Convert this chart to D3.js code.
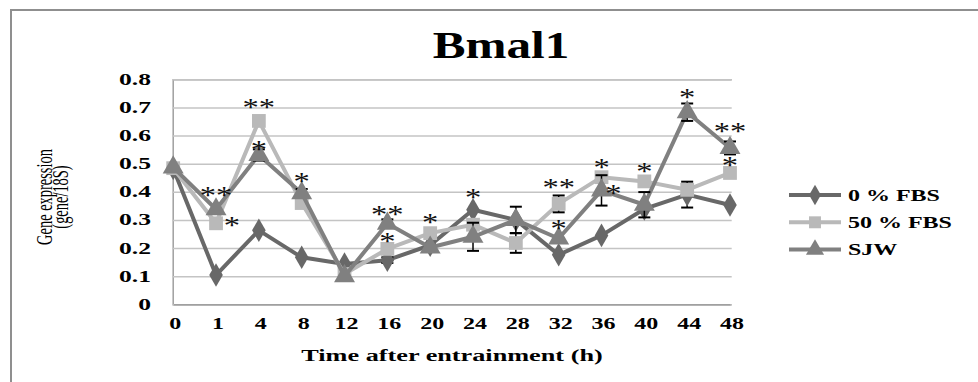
<!DOCTYPE html>
<html><head><meta charset="utf-8">
<script src="https://cdn.jsdelivr.net/npm/d3@7"></script>
<style>body{margin:0;background:#fff}svg{display:block}</style>
</head><body>
<svg id="c" width="978" height="382"></svg>
<script>
const categories = ["0","1","4","8","12","16","20","24","28","32","36","40","44","48"];
const yTicks = [0,0.1,0.2,0.3,0.4,0.5,0.6,0.7,0.8];
const seriesNames = ["0 % FBS","50 % FBS","SJW"];
const fbs0  = [0.483,0.104,0.263,0.167,0.143,0.157,0.210,0.336,0.300,0.176,0.245,0.339,0.390,0.353];
const fbs50 = [0.484,0.288,0.652,0.360,0.108,0.197,0.253,0.283,0.218,0.357,0.452,0.437,0.407,0.467];
const sjw   = [0.487,0.338,0.531,0.395,0.100,0.287,0.202,0.240,0.300,0.234,0.405,0.354,0.683,0.556];
const fbs0Err  = [0,0,0,0,0,0.010,0,0,0,0,0,0,0.046,0];
const fbs50Err = [0,0,0,0,0,0,0,0,0.035,0.030,0,0,0,0];
const sjwErr   = [0,0,0.02,0.015,0,0.015,0,0.05,0.047,0,0.054,0.045,0.031,0.023];
// significance marks: [category position, value level, label]
const marks = [
  [1,0.404,"**"],[1.37,0.296,"*"],[2,0.716,"**"],[2,0.567,"*"],[3,0.453,"*"],
  [5,0.336,"**"],[5,0.240,"*"],[6,0.307,"*"],[7,0.396,"*"],[9,0.432,"**"],[9,0.286,"*"],
  [10,0.503,"*"],[10.28,0.410,"*"],[11,0.489,"*"],[12,0.752,"*"],[13,0.631,"**"],[13,0.510,"*"]
];

const svg = d3.select("#c");
const SX = 1.5; // horizontal stretch of the original picture's text
const serif = "'Liberation Serif','Times New Roman',serif";
const L = 172.7, R = 731.7, T = 79.3, B = 304.3;
const x = d3.scaleLinear().domain([0, categories.length-1]).range([L+0.5, 730]);
const y = d3.scaleLinear().domain([0,0.8]).range([B,T]);

// frame
svg.append("rect").attr("x",11).attr("y",10).attr("width",1000).attr("height",400)
  .attr("fill","#fff").attr("stroke","#8f8f8f").attr("stroke-width",2);

function stext(g, tx, ty, str, size, weight, anchor, sx){
  return g.append("text").attr("transform",`translate(${tx},${ty}) scale(${sx||SX},1)`)
    .attr("text-anchor",anchor||"middle").attr("font-family",serif)
    .attr("font-size",size).attr("font-weight",weight||"bold").attr("fill","#000").text(str);
}

// title
stext(svg, 501, 58, "Bmal1", 37, "bold", "middle", 1.33);

// grid
const yAxis = d3.axisLeft(y).tickValues(yTicks).tickSize(-(R-L)).tickFormat("");
const gy = svg.append("g").attr("transform",`translate(${L},0)`).call(yAxis);
gy.select(".domain").attr("stroke","#a0a0a0").attr("stroke-width",1.5);
gy.selectAll(".tick line").attr("stroke","#c4c4c4").attr("stroke-width",1.5);
yTicks.forEach(t=>{ stext(svg, 151, y(t)+5.5, t===0?"0":d3.format(".1f")(t), 16, "bold", "end", 1.6); });

// x axis
const gx = svg.append("g").attr("transform",`translate(0,${B})`)
  .call(d3.axisBottom(x).tickValues(d3.range(categories.length)).tickSize(0).tickFormat(""));
gx.select(".domain").attr("stroke","#a0a0a0").attr("stroke-width",1.5);
categories.forEach((c,i)=>{ stext(svg, x(i)+2, 329, c, 16, "bold"); });
stext(svg, 452, 361, "Time after entrainment (h)", 17.5, "bold");

// y title
const YS = 1.4;
const yt = svg.append("g").attr("transform",`scale(${YS},1)`);
yt.append("text").attr("transform",`translate(${52/YS},197) rotate(-90) scale(0.85,1)`).attr("text-anchor","middle")
  .attr("font-family",serif).attr("font-size",17).attr("fill","#000").text("Gene expression");
yt.append("text").attr("transform",`translate(${67.5/YS},197) rotate(-90) scale(0.85,1)`).attr("text-anchor","middle")
  .attr("font-family",serif).attr("font-size",17).attr("fill","#000").text("(gene/18S)");

const series = [
  {name:seriesNames[0], vals:fbs0, err:fbs0Err, color:"#686868", shape:d3.symbolDiamond, size:160},
  {name:seriesNames[1], vals:fbs50, err:fbs50Err, color:"#b9b9b9", shape:d3.symbolSquare, size:190},
  {name:seriesNames[2], vals:sjw, err:sjwErr, color:"#808080", shape:d3.symbolTriangle, size:190}
];
const line = d3.line().x((d,i)=>x(i)).y(d=>y(d));
series.forEach(s=>{
  const g = svg.append("g");
  g.append("path").attr("d",line(s.vals)).attr("fill","none").attr("stroke",s.color)
    .attr("stroke-width",4).attr("stroke-linejoin","round");
  s.vals.forEach((v,i)=>{
    const e = s.err[i];
    if(e>0){
      g.append("line").attr("x1",x(i)).attr("x2",x(i)).attr("y1",y(v-e)).attr("y2",y(v+e)).attr("stroke","#000").attr("stroke-width",1.5);
      [v-e,v+e].forEach(w=>g.append("line").attr("x1",x(i)-6).attr("x2",x(i)+6).attr("y1",y(w)).attr("y2",y(w)).attr("stroke","#000").attr("stroke-width",2));
    }
  });
  g.selectAll("path.m").data(s.vals).join("path").attr("class","m")
    .attr("transform",(d,i)=>`translate(${x(i)},${y(d)})`)
    .attr("d",d3.symbol().type(s.shape).size(s.size)).attr("fill",s.color);
});

// significance marks
marks.forEach(([p,v,t])=>{
  svg.append("text").attr("transform",`translate(${x(p)},${y(v)+13}) scale(1.25,1)`).attr("text-anchor","middle")
    .attr("font-family",serif).attr("font-size",26).attr("fill","#111").text(t);
});

// legend
const lg = svg.append("g");
series.forEach((s,i)=>{
  const ly = 195 + i*27.3;
  lg.append("line").attr("x1",789).attr("x2",841).attr("y1",ly).attr("y2",ly).attr("stroke",s.color).attr("stroke-width",4);
  lg.append("path").attr("transform",`translate(815,${ly})`).attr("d",d3.symbol().type(s.shape).size(s.size*0.75)).attr("fill",s.color);
  stext(lg, 848, ly+5.5, s.name, 16, "bold", "start");
});
</script>
</body></html>
